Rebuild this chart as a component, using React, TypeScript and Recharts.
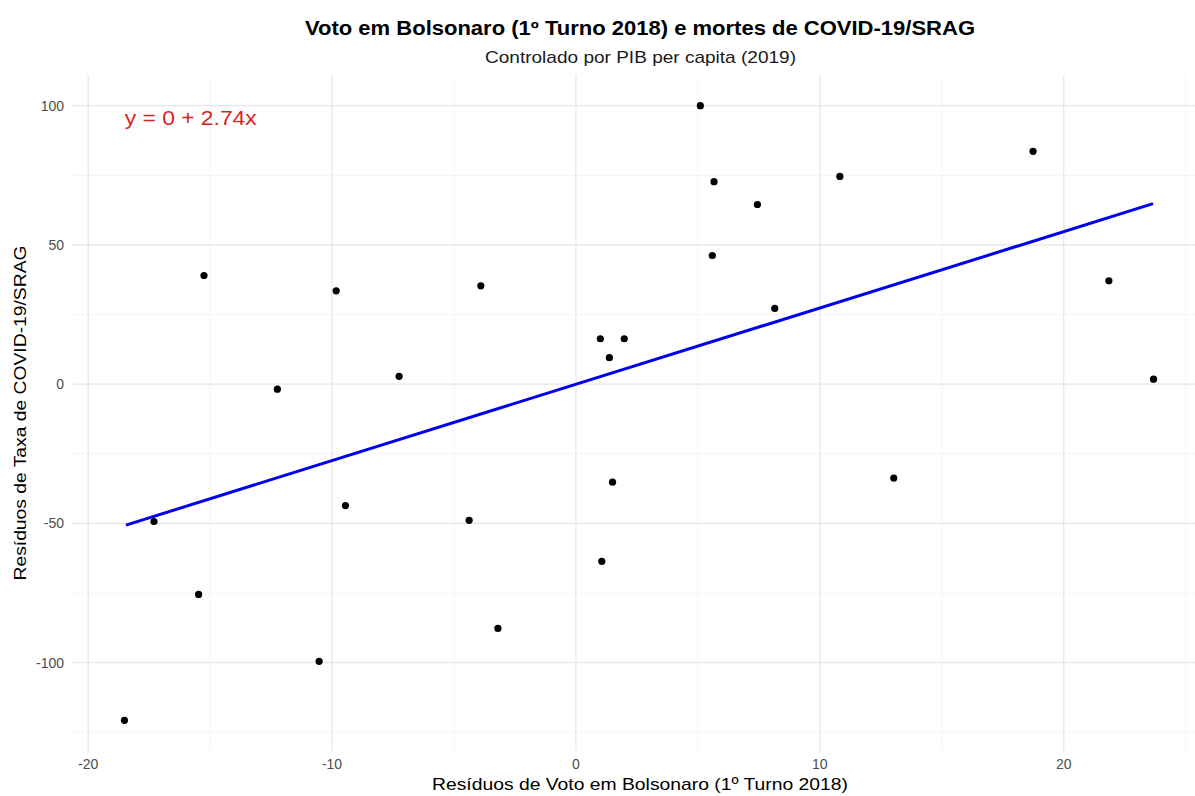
import React from "react"
import {
  ScatterChart,
  Scatter,
  XAxis,
  YAxis,
  ReferenceLine,
  ReferenceDot,
} from "recharts"

// residuals
const residVoto = [
  -18.51, -17.3, -15.47, -15.25, -12.24, -10.53, -9.83, -9.45, -7.25, -4.38,
  -3.9, -3.2, 1.0, 1.06, 1.37, 1.5, 1.98, 5.1, 5.59, 5.66, 7.44, 8.15, 10.82,
  13.03, 18.74, 21.85, 23.68,
]
const residCovid = [
  -120.7, -49.3, -75.5, 39.0, -1.8, -99.5, 33.5, -43.6, 2.8, -48.9, 35.3,
  -87.7, 16.3, -63.6, 9.5, -35.2, 16.3, 100.0, 46.2, 72.7, 64.5, 27.2, 74.6,
  -33.7, 83.6, 37.1, 1.8,
]

// fitted line y = 0 + 2.74x, ends of the fit range
const fitX = [-18.45, 23.66]
const fitY = [-50.6, 64.8]

const xTicks = [-20, -10, 0, 10, 20]
const yTicks = [-100, -50, 0, 50, 100]
const xMinor = [-15, -5, 5, 15, 25]
const yMinor = [-125, -75, -25, 25, 75]

const points = residVoto.map((x, i) => ({ x, y: residCovid[i] }))
const fitLine = fitX.map((x, i) => ({ x, y: fitY[i] }))

const FONT = "'Liberation Sans', Arial, Helvetica, sans-serif"
const tickStyle = { fontSize: 14, fill: "#4d4d4d", fontFamily: FONT }

const Dot = (props: { cx?: number; cy?: number }) => (
  <circle cx={props.cx} cy={props.cy} r={3.6} fill="#000000" />
)

const NoDot = () => null

const EqLabel = (props: { cx?: number; cy?: number }) => (
  <text
    x={props.cx}
    y={props.cy}
    dy={5.5}
    fill="#dd1f1f"
    fontSize={20}
    fontFamily={FONT}
    textAnchor="start"
    textLength={132}
    lengthAdjust="spacingAndGlyphs"
  >
    y = 0 + 2.74x
  </text>
)

export default function App() {
  return (
    <div
      style={{
        position: "absolute",
        left: 0,
        top: 0,
        width: 1195,
        height: 796,
        overflow: "hidden",
        background: "#ffffff",
      }}
    >
      <ScatterChart
        width={1206}
        height={796}
        margin={{ top: 75, right: 1, bottom: 0, left: 0 }}
      >
        {xMinor.map((v) => (
          <ReferenceLine key={"xm" + v} x={v} stroke="#f1f1f1" strokeWidth={0.8} />
        ))}
        {yMinor.map((v) => (
          <ReferenceLine key={"ym" + v} y={v} stroke="#f1f1f1" strokeWidth={0.8} />
        ))}
        {xTicks.map((v) => (
          <ReferenceLine key={"xg" + v} x={v} stroke="#e6e6e6" strokeWidth={1.2} />
        ))}
        {yTicks.map((v) => (
          <ReferenceLine key={"yg" + v} y={v} stroke="#e6e6e6" strokeWidth={1.2} />
        ))}
        <XAxis
          type="number"
          dataKey="x"
          domain={[-20.62, 25.79]}
          ticks={xTicks}
          allowDataOverflow
          axisLine={false}
          tickLine={false}
          tickSize={0}
          tickMargin={8}
          height={45}
          tick={tickStyle}
        />
        <YAxis
          type="number"
          dataKey="y"
          domain={[-131.7, 111.0]}
          ticks={yTicks}
          allowDataOverflow
          axisLine={false}
          tickLine={false}
          tickSize={0}
          tickMargin={9}
          width={73}
          tick={tickStyle}
        />
        <Scatter
          data={fitLine}
          line={{ stroke: "#0000ee", strokeWidth: 3 }}
          shape={NoDot}
          isAnimationActive={false}
        />
        <Scatter data={points} shape={Dot} isAnimationActive={false} />
        <ReferenceDot x={-18.5} y={95} r={0} shape={EqLabel} />
      </ScatterChart>

      <svg
        width={1195}
        height={796}
        style={{ position: "absolute", left: 0, top: 0, pointerEvents: "none" }}
        fontFamily={FONT}
      >
        <text
          x={640}
          y={34.5}
          textAnchor="middle"
          fontSize={19.5}
          fontWeight="bold"
          fill="#000"
          textLength={670}
          lengthAdjust="spacingAndGlyphs"
        >
          Voto em Bolsonaro (1º Turno 2018) e mortes de COVID-19/SRAG
        </text>
        <text
          x={640.5}
          y={63}
          textAnchor="middle"
          fontSize={17}
          fill="#1a1a1a"
          textLength={311}
          lengthAdjust="spacingAndGlyphs"
        >
          Controlado por PIB per capita (2019)
        </text>
        <text
          x={640}
          y={790}
          textAnchor="middle"
          fontSize={17}
          fill="#000"
          textLength={416}
          lengthAdjust="spacingAndGlyphs"
        >
          Resíduos de Voto em Bolsonaro (1º Turno 2018)
        </text>
        <text
          transform="translate(26, 413) rotate(-90)"
          textAnchor="middle"
          fontSize={17}
          fill="#000"
          textLength={335}
          lengthAdjust="spacingAndGlyphs"
        >
          Resíduos de Taxa de COVID-19/SRAG
        </text>
      </svg>
    </div>
  )
}
